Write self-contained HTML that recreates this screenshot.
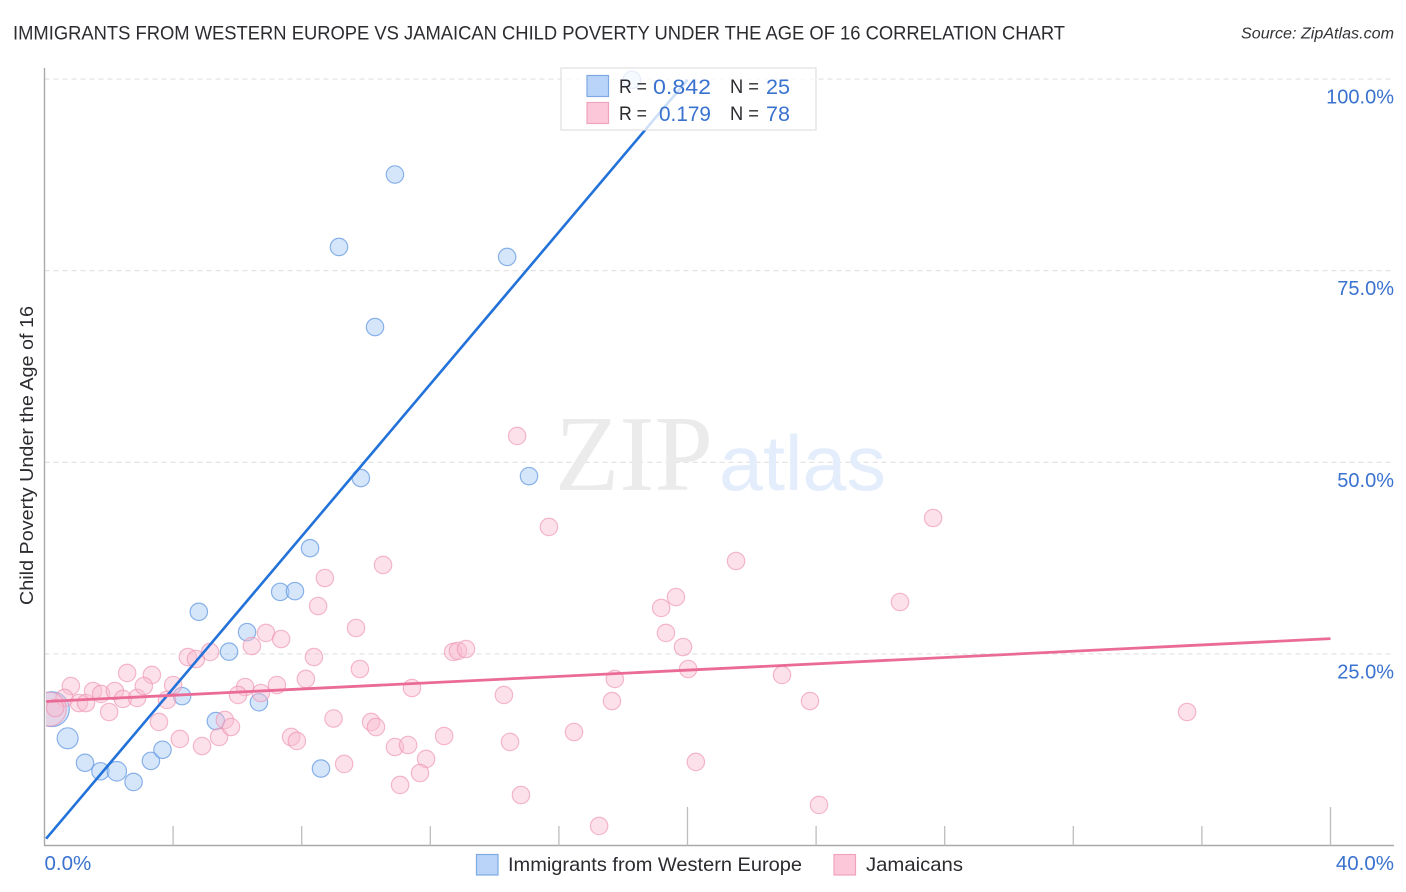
<!DOCTYPE html>
<html lang="en">
<head>
<meta charset="utf-8">
<title>Immigrants from Western Europe vs Jamaican Child Poverty Correlation Chart</title>
<style>
html,body{margin:0;padding:0;background:#fff;}
svg{display:block;font-family:"Liberation Sans",sans-serif;}
</style>
</head>
<body>
<svg id="chart" xmlns="http://www.w3.org/2000/svg" width="1406" height="892" viewBox="0 0 1406 892">
  <defs>
    <clipPath id="plot-clip"><rect x="46" y="60" width="1350" height="786"/></clipPath>
  </defs>
  <text x="13" y="39.5" font-size="19.5" fill="#2b2b30" textLength="1052" lengthAdjust="spacingAndGlyphs">IMMIGRANTS FROM WESTERN EUROPE VS JAMAICAN CHILD POVERTY UNDER THE AGE OF 16 CORRELATION CHART</text>
  <text x="1241" y="38.5" font-size="15.5" font-style="italic" fill="#333338" textLength="153" lengthAdjust="spacingAndGlyphs">Source: ZipAtlas.com</text>
  <text transform="translate(33,605) rotate(-90)" x="0" y="0" font-size="18.5" fill="#2b2b30" textLength="299" lengthAdjust="spacingAndGlyphs">Child Poverty Under the Age of 16</text>

  <g id="grid"></g>

  <g>
    <text x="555" y="490" font-family="'Liberation Serif',serif" font-size="108" fill="#ebebeb" textLength="158" lengthAdjust="spacingAndGlyphs">ZIP</text>
    <text x="719" y="490" font-size="78" fill="#e4edfb" textLength="167" lengthAdjust="spacingAndGlyphs">atlas</text>
  </g>

  <g id="axes"></g>
  <g id="points-blue" clip-path="url(#plot-clip)"></g>
  <g id="points-pink" clip-path="url(#plot-clip)"></g>
  <g id="lines"></g>

  <g>
    <rect x="561" y="68" width="255" height="62" fill="#fff" fill-opacity="0.78" stroke="#e0e0e0" stroke-width="1.2"/>
    <rect x="587" y="75.5" width="21.5" height="21" fill="#b9d4f8" stroke="#7ea9e2" stroke-width="1.2"/>
    <rect x="587" y="102.5" width="21.5" height="21" fill="#fcc8d9" stroke="#f0a3bd" stroke-width="1.2"/>
    <text x="619" y="93" font-size="19.5" fill="#2b2b30" textLength="28" lengthAdjust="spacingAndGlyphs">R =</text>
    <text x="653" y="94" font-size="21" fill="#3a72cf" textLength="58" lengthAdjust="spacingAndGlyphs">0.842</text>
    <text x="730" y="93" font-size="19.5" fill="#2b2b30" textLength="29" lengthAdjust="spacingAndGlyphs">N =</text>
    <text x="766" y="94" font-size="21" fill="#3a72cf" textLength="24" lengthAdjust="spacingAndGlyphs">25</text>
    <text x="619" y="120" font-size="19.5" fill="#2b2b30" textLength="28" lengthAdjust="spacingAndGlyphs">R =</text>
    <text x="659" y="121" font-size="21" fill="#3a72cf" textLength="52" lengthAdjust="spacingAndGlyphs">0.179</text>
    <text x="730" y="120" font-size="19.5" fill="#2b2b30" textLength="29" lengthAdjust="spacingAndGlyphs">N =</text>
    <text x="766" y="121" font-size="21" fill="#3a72cf" textLength="24" lengthAdjust="spacingAndGlyphs">78</text>
  </g>

  <g>
    <rect x="476.5" y="854.5" width="21.5" height="20.5" fill="#b9d4f8" stroke="#7ea9e2" stroke-width="1.2"/>
    <text x="508" y="871" font-size="19.5" fill="#2b2b30" textLength="294" lengthAdjust="spacingAndGlyphs">Immigrants from Western Europe</text>
    <rect x="834" y="854.5" width="21.5" height="20.5" fill="#fcc8d9" stroke="#f0a3bd" stroke-width="1.2"/>
    <text x="866" y="871" font-size="19.5" fill="#2b2b30" textLength="97" lengthAdjust="spacingAndGlyphs">Jamaicans</text>
  </g>
</svg>

<script>
var yTickValues = [100, 75, 50, 25];
var yTickLabels = ["100.0%", "75.0%", "50.0%", "25.0%"];
var xTickValues = [4, 8, 12, 16, 20, 24, 28, 32, 36, 40];
var xMajorTicks = [20, 40];
var xEndLabels = ["0.0%", "40.0%"];
var xEndValues = [0, 40];

var blueX = [18.27,10.9,9.16,14.39,10.28,9.84,15.07,8.26,7.33,7.79,4.8,6.3,5.74,4.28,6.67,5.33,0.23,0.72,1.26,1.74,2.25,2.77,3.31,3.67,8.6];
var blueY = [99.9,87.55,78.1,76.8,67.65,47.95,48.2,38.8,33.1,33.2,30.5,27.85,25.3,19.5,18.7,16.25,17.8,14,10.8,9.7,9.7,8.3,11.05,12.5,10.05];
var blueWeight = [1,1,1,1,1,1,1,1,1,1,1,1,1,1,1,1,4,1.45,1,1,1.25,1,1,1,1];

var pinkX = [0.82,0.62,0.15,0.33,1.07,1.29,1.51,1.76,2.19,2.44,2.88,2.57,3.34,3.09,2.01,4.0,3.81,3.56,4.21,4.9,5.43,5.61,5.8,4.46,4.71,5.15,6.45,6.89,7.36,8.38,8.13,7.23,6.73,6.24,6.02,7.67,7.85,8.99,9.32,9.69,9.81,11.43,10.16,10.31,10.9,11.31,11.87,11.68,11.06,12.43,12.71,12.86,13.11,14.29,14.48,14.82,16.47,17.74,17.65,17.25,19.33,19.86,20.02,20.26,19.18,19.64,14.7,15.69,10.53,8.72,8.51,21.51,27.64,26.61,35.54,22.94,23.81,24.09];
var pinkY = [20.82,19.26,17.8,17.95,18.6,18.6,20.17,19.78,20.17,19.13,19.26,22.52,22.26,20.82,17.43,20.95,19.0,16.13,13.91,12.99,14.17,16.39,15.47,24.6,24.34,25.26,26.04,27.74,26.95,24.6,21.74,20.95,19.91,20.69,19.65,14.17,13.65,16.58,10.65,28.39,23.04,20.56,16.13,15.47,12.86,13.12,11.3,9.47,7.91,14.3,25.26,25.39,25.65,19.65,13.52,6.6,14.82,21.74,18.86,2.56,27.74,25.91,23.04,10.91,31.0,32.43,53.44,41.57,36.61,34.91,31.26,37.13,42.74,31.78,17.43,22.26,18.86,5.3];
var pinkWeight = [1,1,3.8,1,1,1,1,1,1,1,1,1,1,1,1,1,1,1,1,1,1,1,1,1,1,1,1,1,1,1,1,1,1,1,1,1,1,1,1,1,1,1,1,1,1,1,1,1,1,1,1,1,1,1,1,1,1,1,1,1,1,1,1,1,1,1,1,1,1,1,1,1,1,1,1,1,1,1];

var blueTrendX = [0.05, 20];
var blueTrendY = [0.9, 99.9];
var pinkTrendX = [0.05, 40];
var pinkTrendY = [18.8, 27.0];

var NS = "http://www.w3.org/2000/svg";
function xScale(v){ return 44.5 + v * 32.15; }
function yScale(v){ return 845.6 - v * 7.665; }
function rScale(w){ return 8.7 * Math.sqrt(w); }
function make(tag, attrs, parent){
  var el = document.createElementNS(NS, tag);
  for (var k in attrs) el.setAttribute(k, attrs[k]);
  parent.appendChild(el);
  return el;
}

var grid = document.getElementById("grid");
var axes = document.getElementById("axes");

yTickValues.forEach(function(v, i){
  var y = yScale(v);
  var line = make("line", {x1:44.5, x2:1394, y1:y, y2:y, stroke:"#e0e0e0", "stroke-width":1.1, "stroke-dasharray":"5 4"}, grid);
  
  
  var label = make("text", {x:1394, y:y+24.5, "text-anchor":"end", "font-size":20, fill:"#3a72cf"}, axes);
  
  
  label.textContent = yTickLabels[i];
});

var yAxis = make("line", {x1:44.5, x2:44.5, y1:68, y2:846, stroke:"#a9a9a9", "stroke-width":1.4}, axes);


var xAxis = make("line", {x1:44, x2:1394, y1:845.5, y2:845.5, stroke:"#a9a9a9", "stroke-width":1.4}, axes);



xTickValues.forEach(function(v){
  var x = xScale(v);
  var top = xMajorTicks.indexOf(v) >= 0 ? 807 : 826;
  var tick = make("line", {x1:x, x2:x, y1:top, y2:845.5, stroke:"#bdbdbd", "stroke-width":1.3}, axes);
  
  
});

xEndValues.forEach(function(v, i){
  var label = make("text", {x: i === 0 ? xScale(v) : 1394, y:870, "text-anchor": i === 0 ? "start" : "end", "font-size":20.5, fill:"#3a72cf"}, axes);
  
  
  label.textContent = xEndLabels[i];
});

var blueGroup = document.getElementById("points-blue");
blueX.forEach(function(v, i){
  var c = make("circle", {cx:xScale(v), cy:yScale(blueY[i]), r:rScale(blueWeight[i]), fill:"#aecdf6", "fill-opacity":0.5, stroke:"#5f97e0", "stroke-opacity":0.72, "stroke-width":1.2}, blueGroup);
  
  
});

var pinkGroup = document.getElementById("points-pink");
pinkX.forEach(function(v, i){
  var c = make("circle", {cx:xScale(v), cy:yScale(pinkY[i]), r:rScale(pinkWeight[i]), fill:"#f9bdd1", "fill-opacity":0.45, stroke:"#ee8fb0", "stroke-opacity":0.62, "stroke-width":1.2}, pinkGroup);
  
  
});

var lineGroup = document.getElementById("lines");
var blueLine = make("line", {x1:xScale(blueTrendX[0]), y1:yScale(blueTrendY[0]), x2:xScale(blueTrendX[1]), y2:yScale(blueTrendY[1]), stroke:"#2272d9", "stroke-width":2.6}, lineGroup);


var pinkLine = make("line", {x1:xScale(pinkTrendX[0]), y1:yScale(pinkTrendY[0]), x2:xScale(pinkTrendX[1]), y2:yScale(pinkTrendY[1]), stroke:"#ea6b98", "stroke-width":2.8}, lineGroup);


</script>
</body>
</html>
